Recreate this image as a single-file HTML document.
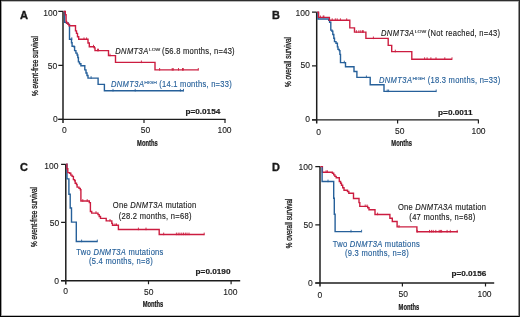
<!DOCTYPE html>
<html><head><meta charset="utf-8"><title>Kaplan-Meier survival curves by DNMT3A</title>
<style>
html,body{margin:0;padding:0;background:#fff;}
body{width:520px;height:317px;overflow:hidden;}
svg{display:block;will-change:transform;}
text{font-family:"Liberation Sans", sans-serif;}
</style></head><body>
<svg width="520" height="317" viewBox="0 0 520 317">
<defs><filter id="soft" x="0" y="0" width="100%" height="100%"><feGaussianBlur stdDeviation="0.35"/></filter></defs>
<rect x="0" y="0" width="520" height="317" fill="#fff"/>
<g filter="url(#soft)">
<rect x="0" y="0" width="520" height="317" fill="#fff"/>
<path d="M63.00 11.40 V122.95" stroke="#1e1e1e" stroke-width="1.5" fill="none"/>
<path d="M58.30 119.35 H225.60" stroke="#1e1e1e" stroke-width="1.4" fill="none"/>
<path d="M58.30 11.40 H63.00 M58.30 65.40 H63.00 M58.30 119.35 H63.00 M144.00 119.35 V122.95 M225.00 119.35 V122.95" stroke="#1e1e1e" stroke-width="1.2" fill="none"/>
<text transform="translate(20.10 18.50) scale(1.06 1)" font-size="10.5" font-weight="bold" font-style="normal" fill="#1a1a1a" text-anchor="start" stroke="#1a1a1a" stroke-width="0.35" >A</text>
<text transform="translate(37.60 66.10) rotate(-90) scale(0.756 1)" font-size="8.5" fill="#1a1a1a" stroke="#1a1a1a" stroke-width="0.32" text-anchor="middle">% event-free survival</text>
<text transform="translate(57.40 16.20) scale(1.0 1)" font-size="8.5" font-weight="normal" font-style="normal" fill="#1a1a1a" text-anchor="end" stroke="#1a1a1a" stroke-width="0.1" >100</text>
<text transform="translate(57.30 68.80) scale(1.0 1)" font-size="8.5" font-weight="normal" font-style="normal" fill="#1a1a1a" text-anchor="end" stroke="#1a1a1a" stroke-width="0.1" >50</text>
<text transform="translate(57.80 122.20) scale(1.0 1)" font-size="8.5" font-weight="normal" font-style="normal" fill="#1a1a1a" text-anchor="end" stroke="#1a1a1a" stroke-width="0.1" >0</text>
<text transform="translate(64.30 133.30) scale(1.0 1)" font-size="8.5" font-weight="normal" font-style="normal" fill="#1a1a1a" text-anchor="middle" stroke="#1a1a1a" stroke-width="0.1" >0</text>
<text transform="translate(145.50 132.80) scale(1.0 1)" font-size="8.5" font-weight="normal" font-style="normal" fill="#1a1a1a" text-anchor="middle" stroke="#1a1a1a" stroke-width="0.1" >50</text>
<text transform="translate(224.50 132.60) scale(1.0 1)" font-size="8.5" font-weight="normal" font-style="normal" fill="#1a1a1a" text-anchor="middle" stroke="#1a1a1a" stroke-width="0.1" >100</text>
<text transform="translate(147.40 146.20) scale(0.63 1)" font-size="9.2" font-weight="bold" font-style="normal" fill="#1a1a1a" text-anchor="middle" stroke="#1a1a1a" stroke-width="0.25" >Months</text>
<text transform="translate(185.40 113.70) scale(1.04 1)" font-size="7.9" font-weight="bold" font-style="normal" fill="#1a1a1a" text-anchor="start" stroke="#1a1a1a" stroke-width="0.18" >p=0.0154</text>
<path d="M63.50 11.40 H64.70 V22.40 H66.50 V23.20 H68.30 V24.40 H69.50 V39.20 H71.50 V42.70 H72.10 V46.20 H74.00 V46.80 H74.60 V50.60 H75.90 V53.10 H77.10 V55.00 H77.80 V57.50 H78.40 V61.90 H79.50 V63.80 H80.90 V65.70 H84.80 V69.90 H86.00 V73.00 H87.00 V75.50 H88.00 V78.10 H98.10 V84.40 H104.40 V90.80 H183.50" fill="none" stroke="#26609a" stroke-width="1.4" stroke-linejoin="miter" stroke-linecap="butt"/>
<path d="M71.80 39.90 V37.30 M91.10 78.80 V76.20 M113.00 91.50 V88.90 M135.20 91.50 V88.90 M180.40 91.50 V88.90 M183.50 91.50 V88.90" fill="none" stroke="#26609a" stroke-width="0.9"/>
<path d="M63.50 11.40 H65.30 V14.70 H66.10 V21.40 H66.60 V23.00 H68.00 V24.40 H69.00 V25.80 H75.50 V30.90 H76.50 V33.40 H77.50 V36.70 H78.70 V39.30 H88.00 V43.00 H89.30 V46.70 H94.30 V47.90 H95.00 V50.60 H108.50 V55.60 H115.50 V62.40 H155.00 V69.90 H198.30" fill="none" stroke="#cc1f40" stroke-width="1.4" stroke-linejoin="miter" stroke-linecap="butt"/>
<path d="M84.00 40.00 V37.40 M86.60 40.00 V37.40 M93.50 47.40 V44.80 M97.50 51.30 V48.70 M98.50 51.30 V48.70 M110.00 56.30 V53.70 M141.40 63.10 V60.50 M159.60 70.60 V68.00 M172.20 70.60 V68.00 M173.20 70.60 V68.00 M178.50 70.60 V68.00 M182.50 70.60 V68.00 M183.30 70.60 V68.00 M198.30 70.60 V68.00" fill="none" stroke="#cc1f40" stroke-width="0.9"/>
<text transform="translate(115.20 53.90) scale(0.87 1)" font-size="8.7" font-style="italic" fill="#1a1a1a" stroke="#1a1a1a" stroke-width="0.14" letter-spacing="0.45">DNMT3A</text>
<text transform="translate(148.90 51.00) scale(1.2 1)" font-size="4.2" fill="#1a1a1a" stroke="#1a1a1a" stroke-width="0.1">LOW</text>
<text transform="translate(162.10 53.90) scale(0.87 1)" font-size="8.7" fill="#1a1a1a" stroke="#1a1a1a" stroke-width="0.14" letter-spacing="0.3">(56.8 months, n=43)</text>
<text transform="translate(110.90 86.80) scale(0.87 1)" font-size="8.7" font-style="italic" fill="#26609a" stroke="#26609a" stroke-width="0.14" letter-spacing="0.45">DNMT3A</text>
<text transform="translate(144.30 83.90) scale(1.2 1)" font-size="4.2" fill="#26609a" stroke="#26609a" stroke-width="0.1">HIGH</text>
<text transform="translate(159.20 86.80) scale(0.87 1)" font-size="8.7" fill="#26609a" stroke="#26609a" stroke-width="0.14" letter-spacing="0.3">(14.1 months, n=33)</text>
<path d="M316.70 12.20 V123.50" stroke="#1e1e1e" stroke-width="1.5" fill="none"/>
<path d="M312.00 119.90 H478.80" stroke="#1e1e1e" stroke-width="1.4" fill="none"/>
<path d="M312.00 12.20 H316.70 M312.00 65.80 H316.70 M312.00 119.90 H316.70 M397.60 119.90 V123.50 M478.40 119.90 V123.50" stroke="#1e1e1e" stroke-width="1.2" fill="none"/>
<text transform="translate(272.00 18.90) scale(1.04 1)" font-size="10.5" font-weight="bold" font-style="normal" fill="#1a1a1a" text-anchor="start" stroke="#1a1a1a" stroke-width="0.35" >B</text>
<text transform="translate(290.80 62.00) rotate(-90) scale(0.756 1)" font-size="8.5" fill="#1a1a1a" stroke="#1a1a1a" stroke-width="0.32" text-anchor="middle">% overall survival</text>
<text transform="translate(309.70 15.80) scale(1.0 1)" font-size="8.5" font-weight="normal" font-style="normal" fill="#1a1a1a" text-anchor="end" stroke="#1a1a1a" stroke-width="0.1" >100</text>
<text transform="translate(310.00 68.20) scale(1.0 1)" font-size="8.5" font-weight="normal" font-style="normal" fill="#1a1a1a" text-anchor="end" stroke="#1a1a1a" stroke-width="0.1" >50</text>
<text transform="translate(310.10 121.50) scale(1.0 1)" font-size="8.5" font-weight="normal" font-style="normal" fill="#1a1a1a" text-anchor="end" stroke="#1a1a1a" stroke-width="0.1" >0</text>
<text transform="translate(318.60 134.70) scale(1.0 1)" font-size="8.5" font-weight="normal" font-style="normal" fill="#1a1a1a" text-anchor="middle" stroke="#1a1a1a" stroke-width="0.1" >0</text>
<text transform="translate(399.70 134.10) scale(1.0 1)" font-size="8.5" font-weight="normal" font-style="normal" fill="#1a1a1a" text-anchor="middle" stroke="#1a1a1a" stroke-width="0.1" >50</text>
<text transform="translate(478.50 134.00) scale(1.0 1)" font-size="8.5" font-weight="normal" font-style="normal" fill="#1a1a1a" text-anchor="middle" stroke="#1a1a1a" stroke-width="0.1" >100</text>
<text transform="translate(401.60 146.30) scale(0.63 1)" font-size="9.2" font-weight="bold" font-style="normal" fill="#1a1a1a" text-anchor="middle" stroke="#1a1a1a" stroke-width="0.25" >Months</text>
<text transform="translate(438.10 115.10) scale(1.04 1)" font-size="7.9" font-weight="bold" font-style="normal" fill="#1a1a1a" text-anchor="start" stroke="#1a1a1a" stroke-width="0.18" >p=0.0011</text>
<path d="M317.20 12.20 H318.00 V19.00 H328.70 V20.40 H329.60 V22.20 H330.80 V30.10 H332.00 V31.30 H332.80 V34.50 H333.80 V38.30 H334.50 V41.60 H336.00 V43.20 H337.40 V46.90 H338.00 V49.40 H339.20 V50.60 H339.90 V54.40 H340.50 V62.60 H345.50 V66.80 H354.00 V71.50 H356.90 V77.40 H370.20 V84.70 H384.00 V91.40 H436.20" fill="none" stroke="#26609a" stroke-width="1.4" stroke-linejoin="miter" stroke-linecap="butt"/>
<path d="M344.30 63.30 V60.70 M366.40 78.10 V75.50 M387.20 92.10 V89.50 M388.60 92.10 V89.50 M436.20 92.10 V89.50" fill="none" stroke="#26609a" stroke-width="0.9"/>
<path d="M317.20 12.20 H318.60 V17.40 H329.40 V20.30 H349.80 V27.90 H354.50 V32.10 H365.90 V38.40 H388.20 V45.40 H391.70 V51.60 H411.80 V59.20 H452.00" fill="none" stroke="#cc1f40" stroke-width="1.4" stroke-linejoin="miter" stroke-linecap="butt"/>
<path d="M320.40 18.10 V15.50 M323.20 18.10 V15.50 M323.90 18.10 V15.50 M332.20 20.90 V18.30 M335.30 20.90 V18.30 M337.20 20.90 V18.30 M340.40 20.90 V18.30 M346.70 20.90 V18.30 M356.40 32.80 V30.20 M358.90 32.80 V30.20 M360.80 32.80 V30.20 M362.50 32.80 V30.20 M363.30 32.80 V30.20 M373.40 39.10 V36.50 M395.30 52.30 V49.70 M424.60 59.90 V57.30 M427.10 59.90 V57.30 M430.90 59.90 V57.30 M436.00 59.90 V57.30 M444.80 59.90 V57.30 M452.00 59.90 V57.30" fill="none" stroke="#cc1f40" stroke-width="0.9"/>
<text transform="translate(381.00 35.50) scale(0.87 1)" font-size="8.7" font-style="italic" fill="#1a1a1a" stroke="#1a1a1a" stroke-width="0.14" letter-spacing="0.45">DNMT3A</text>
<text transform="translate(414.70 32.60) scale(1.2 1)" font-size="4.2" fill="#1a1a1a" stroke="#1a1a1a" stroke-width="0.1">LOW</text>
<text transform="translate(427.80 35.50) scale(0.87 1)" font-size="8.7" fill="#1a1a1a" stroke="#1a1a1a" stroke-width="0.14" letter-spacing="0.3">(Not reached, n=43)</text>
<text transform="translate(378.90 82.70) scale(0.87 1)" font-size="8.7" font-style="italic" fill="#26609a" stroke="#26609a" stroke-width="0.14" letter-spacing="0.45">DNMT3A</text>
<text transform="translate(412.40 79.80) scale(1.2 1)" font-size="4.2" fill="#26609a" stroke="#26609a" stroke-width="0.1">HIGH</text>
<text transform="translate(427.70 82.70) scale(0.87 1)" font-size="8.7" fill="#26609a" stroke="#26609a" stroke-width="0.14" letter-spacing="0.3">(18.3 months, n=33)</text>
<path d="M65.80 164.30 V284.50" stroke="#1e1e1e" stroke-width="1.5" fill="none"/>
<path d="M61.10 280.70 H240.20" stroke="#1e1e1e" stroke-width="1.4" fill="none"/>
<path d="M61.10 164.30 H65.80 M61.10 222.40 H65.80 M61.10 280.70 H65.80 M148.50 280.70 V284.30 M231.10 280.70 V284.30" stroke="#1e1e1e" stroke-width="1.2" fill="none"/>
<text transform="translate(19.90 171.20) scale(1.04 1)" font-size="10.5" font-weight="bold" font-style="normal" fill="#1a1a1a" text-anchor="start" stroke="#1a1a1a" stroke-width="0.35" >C</text>
<text transform="translate(36.80 217.00) rotate(-90) scale(0.756 1)" font-size="8.5" fill="#1a1a1a" stroke="#1a1a1a" stroke-width="0.32" text-anchor="middle">% event-free survival</text>
<text transform="translate(58.50 168.70) scale(1.0 1)" font-size="8.5" font-weight="normal" font-style="normal" fill="#1a1a1a" text-anchor="end" stroke="#1a1a1a" stroke-width="0.1" >100</text>
<text transform="translate(59.20 225.60) scale(1.0 1)" font-size="8.5" font-weight="normal" font-style="normal" fill="#1a1a1a" text-anchor="end" stroke="#1a1a1a" stroke-width="0.1" >50</text>
<text transform="translate(59.10 283.60) scale(1.0 1)" font-size="8.5" font-weight="normal" font-style="normal" fill="#1a1a1a" text-anchor="end" stroke="#1a1a1a" stroke-width="0.1" >0</text>
<text transform="translate(65.70 294.20) scale(1.0 1)" font-size="8.5" font-weight="normal" font-style="normal" fill="#1a1a1a" text-anchor="middle" stroke="#1a1a1a" stroke-width="0.1" >0</text>
<text transform="translate(148.80 294.60) scale(1.0 1)" font-size="8.5" font-weight="normal" font-style="normal" fill="#1a1a1a" text-anchor="middle" stroke="#1a1a1a" stroke-width="0.1" >50</text>
<text transform="translate(230.30 295.00) scale(1.0 1)" font-size="8.5" font-weight="normal" font-style="normal" fill="#1a1a1a" text-anchor="middle" stroke="#1a1a1a" stroke-width="0.1" >100</text>
<text transform="translate(153.00 307.40) scale(0.63 1)" font-size="9.2" font-weight="bold" font-style="normal" fill="#1a1a1a" text-anchor="middle" stroke="#1a1a1a" stroke-width="0.25" >Months</text>
<text transform="translate(195.60 274.20) scale(1.04 1)" font-size="7.9" font-weight="bold" font-style="normal" fill="#1a1a1a" text-anchor="start" stroke="#1a1a1a" stroke-width="0.18" >p=0.0190</text>
<path d="M66.20 164.30 H67.00 V178.90 H68.90 V194.20 H70.20 V208.00 H71.50 V222.10 H76.30 V241.50 H97.30" fill="none" stroke="#26609a" stroke-width="1.4" stroke-linejoin="miter" stroke-linecap="butt"/>
<path d="M81.60 242.20 V239.60 M97.30 242.20 V239.60" fill="none" stroke="#26609a" stroke-width="0.9"/>
<path d="M66.20 164.30 H66.90 V168.80 H67.80 V172.60 H69.60 V173.20 H70.80 V175.10 H72.10 V176.40 H73.40 V179.60 H74.60 V180.80 H75.20 V183.30 H76.50 V184.60 H77.10 V187.10 H79.00 V188.40 H80.30 V189.70 H80.90 V201.00 H89.30 V202.60 H90.40 V211.50 H91.70 V213.10 H98.00 V214.60 H99.20 V216.50 H100.50 V218.40 H106.20 V220.90 H111.80 V223.40 H112.50 V225.30 H118.40 V229.50 H159.20 V234.50 H204.40" fill="none" stroke="#cc1f40" stroke-width="1.4" stroke-linejoin="miter" stroke-linecap="butt"/>
<path d="M82.80 201.70 V199.10 M87.20 201.70 V199.10 M96.00 213.80 V211.20 M110.00 221.60 V219.00 M115.00 226.00 V223.40 M116.50 226.00 V223.40 M138.40 230.20 V227.60 M146.00 230.20 V227.60 M163.70 235.20 V232.60 M176.40 235.20 V232.60 M178.20 235.20 V232.60 M179.90 235.20 V232.60 M181.80 235.20 V232.60 M183.50 235.20 V232.60 M185.30 235.20 V232.60 M187.00 235.20 V232.60 M189.00 235.20 V232.60 M204.20 235.20 V232.60" fill="none" stroke="#cc1f40" stroke-width="0.9"/>
<text transform="translate(154.70 207.80) scale(0.87 1)" font-size="8.7" font-weight="normal" font-style="normal" fill="#1a1a1a" text-anchor="middle" stroke="#1a1a1a" stroke-width="0.14" letter-spacing="0.31" >One <tspan font-style="italic">DNMT3A</tspan> mutation</text>
<text transform="translate(155.20 218.90) scale(0.87 1)" font-size="8.7" font-weight="normal" font-style="normal" fill="#1a1a1a" text-anchor="middle" stroke="#1a1a1a" stroke-width="0.14" letter-spacing="0.31" >(28.2 months, n=68)</text>
<text transform="translate(120.00 254.60) scale(0.87 1)" font-size="8.7" font-weight="normal" font-style="normal" fill="#26609a" text-anchor="middle" stroke="#26609a" stroke-width="0.14" letter-spacing="0.31" >Two <tspan font-style="italic">DNMT3A</tspan> mutations</text>
<text transform="translate(121.00 264.00) scale(0.87 1)" font-size="8.7" font-weight="normal" font-style="normal" fill="#26609a" text-anchor="middle" stroke="#26609a" stroke-width="0.14" letter-spacing="0.31" >(5.4 months, n=8)</text>
<path d="M320.00 166.60 V286.60" stroke="#1e1e1e" stroke-width="1.5" fill="none"/>
<path d="M315.30 283.00 H494.20" stroke="#1e1e1e" stroke-width="1.4" fill="none"/>
<path d="M315.30 166.60 H320.00 M315.30 224.80 H320.00 M315.30 283.00 H320.00 M402.40 283.00 V286.60 M485.50 283.00 V286.60" stroke="#1e1e1e" stroke-width="1.2" fill="none"/>
<text transform="translate(272.10 171.20) scale(1.04 1)" font-size="10.5" font-weight="bold" font-style="normal" fill="#1a1a1a" text-anchor="start" stroke="#1a1a1a" stroke-width="0.35" >D</text>
<text transform="translate(292.00 223.40) rotate(-90) scale(0.756 1)" font-size="8.5" fill="#1a1a1a" stroke="#1a1a1a" stroke-width="0.32" text-anchor="middle">% overall survival</text>
<text transform="translate(312.80 170.40) scale(1.0 1)" font-size="8.5" font-weight="normal" font-style="normal" fill="#1a1a1a" text-anchor="end" stroke="#1a1a1a" stroke-width="0.1" >100</text>
<text transform="translate(312.90 227.60) scale(1.0 1)" font-size="8.5" font-weight="normal" font-style="normal" fill="#1a1a1a" text-anchor="end" stroke="#1a1a1a" stroke-width="0.1" >50</text>
<text transform="translate(312.70 286.20) scale(1.0 1)" font-size="8.5" font-weight="normal" font-style="normal" fill="#1a1a1a" text-anchor="end" stroke="#1a1a1a" stroke-width="0.1" >0</text>
<text transform="translate(319.90 297.60) scale(1.0 1)" font-size="8.5" font-weight="normal" font-style="normal" fill="#1a1a1a" text-anchor="middle" stroke="#1a1a1a" stroke-width="0.1" >0</text>
<text transform="translate(403.30 297.00) scale(1.0 1)" font-size="8.5" font-weight="normal" font-style="normal" fill="#1a1a1a" text-anchor="middle" stroke="#1a1a1a" stroke-width="0.1" >50</text>
<text transform="translate(484.50 297.00) scale(1.0 1)" font-size="8.5" font-weight="normal" font-style="normal" fill="#1a1a1a" text-anchor="middle" stroke="#1a1a1a" stroke-width="0.1" >100</text>
<text transform="translate(408.90 309.70) scale(0.63 1)" font-size="9.2" font-weight="bold" font-style="normal" fill="#1a1a1a" text-anchor="middle" stroke="#1a1a1a" stroke-width="0.25" >Months</text>
<text transform="translate(451.40 276.00) scale(1.04 1)" font-size="7.9" font-weight="bold" font-style="normal" fill="#1a1a1a" text-anchor="start" stroke="#1a1a1a" stroke-width="0.18" >p=0.0156</text>
<path d="M320.40 166.60 H322.40 V172.20 H332.40 V173.20 H333.70 V174.90 H334.90 V176.40 H336.20 V177.70 H339.30 V181.50 H340.60 V183.30 H341.50 V185.20 H342.70 V187.80 H344.00 V190.30 H347.50 V191.50 H348.80 V193.30 H353.50 V198.50 H359.00 V202.60 H359.80 V206.40 H367.70 V207.70 H369.00 V209.70 H375.00 V214.50 H389.90 V218.30 H392.30 V221.50 H397.10 V226.90 H416.90 V231.80 H457.90" fill="none" stroke="#cc1f40" stroke-width="1.4" stroke-linejoin="miter" stroke-linecap="butt"/>
<path d="M326.10 172.90 V170.30 M327.40 172.90 V170.30 M365.20 207.10 V204.50 M367.10 207.10 V204.50 M377.60 215.20 V212.60 M399.00 227.60 V225.00 M417.30 232.50 V229.90 M429.50 232.50 V229.90 M431.40 232.50 V229.90 M433.20 232.50 V229.90 M435.80 232.50 V229.90 M439.20 232.50 V229.90 M440.40 232.50 V229.90 M441.60 232.50 V229.90 M447.10 232.50 V229.90 M450.30 232.50 V229.90 M457.20 232.50 V229.90" fill="none" stroke="#cc1f40" stroke-width="0.9"/>
<path d="M322.10 167.20 H322.10 V181.50 H333.70 V198.20 H334.30 V214.30 H335.10 V231.60 H361.40" fill="none" stroke="#26609a" stroke-width="1.4" stroke-linejoin="miter" stroke-linecap="butt"/>
<path d="M328.00 182.20 V179.60 M351.00 232.40 V229.80 M361.60 232.40 V229.80" fill="none" stroke="#26609a" stroke-width="0.9"/>
<text transform="translate(442.10 210.20) scale(0.87 1)" font-size="8.7" font-weight="normal" font-style="normal" fill="#1a1a1a" text-anchor="middle" stroke="#1a1a1a" stroke-width="0.14" letter-spacing="0.31" >One <tspan font-style="italic">DNMTA3A</tspan> mutation</text>
<text transform="translate(442.40 220.40) scale(0.87 1)" font-size="8.7" font-weight="normal" font-style="normal" fill="#1a1a1a" text-anchor="middle" stroke="#1a1a1a" stroke-width="0.14" letter-spacing="0.31" >(47 months, n=68)</text>
<text transform="translate(376.40 246.80) scale(0.87 1)" font-size="8.7" font-weight="normal" font-style="normal" fill="#26609a" text-anchor="middle" stroke="#26609a" stroke-width="0.14" letter-spacing="0.31" >Two <tspan font-style="italic">DNMT3A</tspan> mutations</text>
<text transform="translate(377.00 256.00) scale(0.87 1)" font-size="8.7" font-weight="normal" font-style="normal" fill="#26609a" text-anchor="middle" stroke="#26609a" stroke-width="0.14" letter-spacing="0.31" >(9.3 months, n=8)</text>
</g>
<rect x="1" y="0" width="518" height="2" fill="#b8b8b8"/>
<rect x="0" y="315" width="520" height="1" fill="#bbbbbb"/>
<rect x="1" y="0" width="1" height="317" fill="#a0a0a0"/>
<rect x="518" y="0" width="1" height="317" fill="#909090"/>
<rect x="0" y="0" width="520" height="1" fill="#2d2d2d"/>
<rect x="0" y="316" width="520" height="1" fill="#000"/>
<rect x="0" y="0" width="1" height="317" fill="#000"/>
<rect x="519" y="0" width="1" height="317" fill="#2a2a2a"/>
</svg>
</body></html>
